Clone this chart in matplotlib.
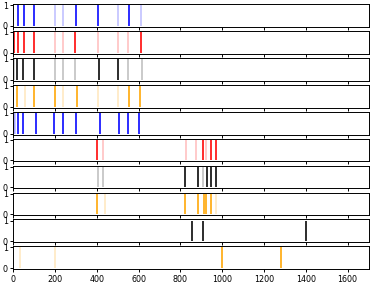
import matplotlib
matplotlib.use("Agg")
import matplotlib.pyplot as plt

# spike times per row: (color, bright events, faded events)
colors = ["blue", "red", "black", "orange", "blue", "red", "black", "orange", "black", "orange"]

strong = [
    [21, 53, 101, 299, 403, 552],
    [3, 21, 53, 101, 293, 610],
    [16, 45, 101, 408, 502],
    [19, 101, 200, 307, 552, 605],
    [24, 48, 107, 197, 240, 299, 413, 504, 547, 602],
    [400, 907, 946, 970],
    [822, 885, 925, 946, 970],
    [400, 822, 885, 912, 922, 946],
    [855, 907, 1400],
    [1000, 1280],
]

faded = [
    [200, 238, 502, 611],
    [200, 238, 403, 502, 550],
    [3, 200, 238, 296, 550, 614],
    [56, 238, 405, 502],
    [3, 8],
    [429, 826, 875, 923],
    [403, 429, 907],
    [440, 971],
    [],
    [30, 200],
]

plt.rcParams["axes.linewidth"] = 1.2
plt.rcParams["xtick.major.width"] = 1.2
plt.rcParams["ytick.major.width"] = 1.2

fig, axes = plt.subplots(10, 1, sharex=True, figsize=(370 / 58, 284 / 58), dpi=58)

for ax, c, s, f in zip(axes, colors, strong, faded):
    if f:
        ax.vlines(f, 0, 1, color=c, alpha=0.25, lw=2)
    ax.vlines(s, 0, 1, color=c, lw=2)
    ax.set_yticks([0, 1])

axes[-1].set_xlim(0, 1700)
axes[-1].set_xticks(range(0, 1700, 200))

plt.subplots_adjust(left=0.036, right=0.996, top=0.986, bottom=0.052, hspace=0.18)
plt.savefig("out.png", dpi=58)
